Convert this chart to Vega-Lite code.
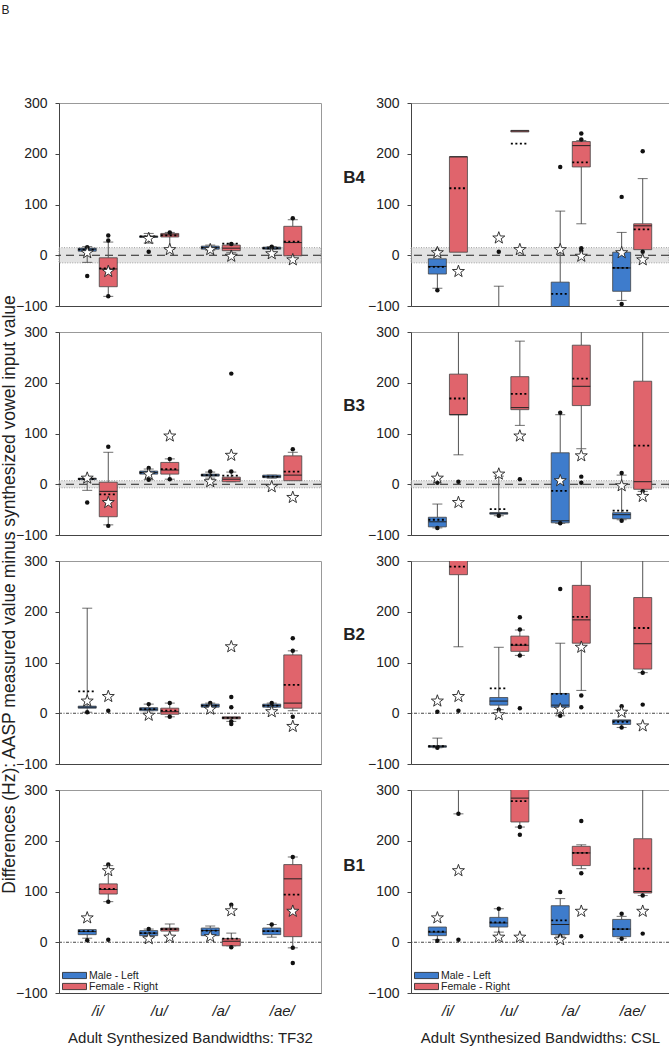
{
"$schema":"https://vega.github.io/schema/vega-lite/v6.json",
"padding":{"left":1,"top":3,"right":5,"bottom":4},
"title":{"text":"B","anchor":"start","fontSize":12,"fontWeight":"normal","offset":79,"color":"#222"},
"datasets":{"d":[
{"k":"z","s":"TF32","b":"B4","lo":-15,"hi":15},{"k":"z","s":"CSL","b":"B4","lo":-15,"hi":15},
{"k":"z","s":"TF32","b":"B3","lo":-7,"hi":7},{"k":"z","s":"CSL","b":"B3","lo":-7,"hi":7},
{"k":"z","s":"TF32","b":"B2","lo":0,"hi":0},{"k":"z","s":"CSL","b":"B2","lo":0,"hi":0},
{"k":"z","s":"TF32","b":"B1","lo":0,"hi":0},{"k":"z","s":"CSL","b":"B1","lo":0,"hi":0},

{"k":"x","s":"TF32","b":"B4","v":"/i/","g":"M","lo":-14,"q1":8,"md":12,"q3":14,"hi":17,"mn":11},
{"k":"x","s":"TF32","b":"B4","v":"/i/","g":"F","lo":-81,"q1":-62,"md":-27,"q3":-5,"hi":26,"mn":-26},
{"k":"x","s":"TF32","b":"B4","v":"/u/","g":"M","lo":24,"q1":35,"md":37,"q3":38,"hi":43,"mn":37},
{"k":"x","s":"TF32","b":"B4","v":"/u/","g":"F","lo":12,"q1":36,"md":40,"q3":43,"hi":45,"mn":39},
{"k":"x","s":"TF32","b":"B4","v":"/a/","g":"M","lo":10,"q1":12,"md":15,"q3":18,"hi":20,"mn":15},
{"k":"x","s":"TF32","b":"B4","v":"/a/","g":"F","lo":5,"q1":9,"md":14,"q3":20,"hi":22,"mn":23},
{"k":"x","s":"TF32","b":"B4","v":"/ae/","g":"M","lo":12,"q1":12,"md":14,"q3":16,"hi":17,"mn":14},
{"k":"x","s":"TF32","b":"B4","v":"/ae/","g":"F","q1":-1,"md":25,"q3":57,"hi":70,"mn":27},

{"k":"x","s":"CSL","b":"B4","v":"/i/","g":"M","lo":-65,"q1":-37,"md":-22,"q3":-7,"mn":-23},
{"k":"x","s":"CSL","b":"B4","v":"/i/","g":"F","q1":6,"md":194,"q3":194,"mn":132},
{"k":"x","s":"CSL","b":"B4","v":"/u/","g":"M","lo":-200,"q1":-160,"md":-130,"q3":-110,"hi":-61,"mn":-130},
{"k":"x","s":"CSL","b":"B4","v":"/u/","g":"F","q1":243,"md":245,"q3":246,"mn":220},
{"k":"x","s":"CSL","b":"B4","v":"/a/","g":"M","lo":-150,"q1":-130,"md":-115,"q3":-53,"hi":87,"mn":-76},
{"k":"x","s":"CSL","b":"B4","v":"/a/","g":"F","lo":62,"q1":174,"md":216,"q3":224,"hi":226,"mn":183},
{"k":"x","s":"CSL","b":"B4","v":"/ae/","g":"M","lo":-89,"q1":-71,"md":-25,"q3":6,"hi":45,"mn":-25},
{"k":"x","s":"CSL","b":"B4","v":"/ae/","g":"F","q1":11,"md":58,"q3":62,"hi":151,"mn":51},

{"k":"x","s":"TF32","b":"B3","v":"/i/","g":"M","lo":-12,"q1":9,"md":11,"q3":12,"hi":14,"mn":10},
{"k":"x","s":"TF32","b":"B3","v":"/i/","g":"F","lo":-80,"q1":-64,"md":-14,"q3":4,"hi":63,"mn":-20},
{"k":"x","s":"TF32","b":"B3","v":"/u/","g":"M","lo":9,"q1":20,"md":23,"q3":26,"hi":30,"mn":23},
{"k":"x","s":"TF32","b":"B3","v":"/u/","g":"F","lo":10,"q1":20,"md":28,"q3":43,"hi":50,"mn":30},
{"k":"x","s":"TF32","b":"B3","v":"/a/","g":"M","lo":12,"q1":16,"md":18,"q3":20,"hi":24,"mn":18},
{"k":"x","s":"TF32","b":"B3","v":"/a/","g":"F","lo":5,"q1":5,"md":10,"q3":14,"hi":24,"mn":17},
{"k":"x","s":"TF32","b":"B3","v":"/ae/","g":"M","lo":12,"q1":13,"md":15,"q3":18,"hi":18,"mn":15},
{"k":"x","s":"TF32","b":"B3","v":"/ae/","g":"F","q1":7,"md":18,"q3":56,"hi":63,"mn":25},

{"k":"x","s":"CSL","b":"B3","v":"/i/","g":"M","lo":-86,"q1":-84,"md":-74,"q3":-65,"hi":-39,"mn":-70},
{"k":"x","s":"CSL","b":"B3","v":"/i/","g":"F","lo":58,"q1":137,"md":137,"q3":217,"hi":340,"mn":169},
{"k":"x","s":"CSL","b":"B3","v":"/u/","g":"M","lo":-62,"q1":-59,"md":-57,"q3":-56,"hi":16,"mn":-49},
{"k":"x","s":"CSL","b":"B3","v":"/u/","g":"F","lo":116,"q1":147,"md":151,"q3":212,"hi":282,"mn":178},
{"k":"x","s":"CSL","b":"B3","v":"/a/","g":"M","lo":-77,"q1":-76,"md":-72,"q3":62,"hi":137,"mn":-13},
{"k":"x","s":"CSL","b":"B3","v":"/a/","g":"F","lo":70,"q1":155,"md":193,"q3":274,"hi":340,"mn":208},
{"k":"x","s":"CSL","b":"B3","v":"/ae/","g":"M","lo":-70,"q1":-68,"md":-60,"q3":-56,"hi":18,"mn":-52},
{"k":"x","s":"CSL","b":"B3","v":"/ae/","g":"F","lo":-14,"q1":-10,"md":5,"q3":203,"hi":340,"mn":76},

{"k":"x","s":"TF32","b":"B2","v":"/i/","g":"M","lo":2,"q1":10,"md":12,"q3":14,"hi":207,"mn":43},
{"k":"x","s":"TF32","b":"B2","v":"/u/","g":"M","lo":5,"q1":5,"md":8,"q3":11,"hi":18,"mn":8},
{"k":"x","s":"TF32","b":"B2","v":"/u/","g":"F","lo":-7,"q1":-2,"md":3,"q3":10,"hi":20,"mn":5},
{"k":"x","s":"TF32","b":"B2","v":"/a/","g":"M","lo":12,"q1":12,"md":15,"q3":18,"hi":20,"mn":15},
{"k":"x","s":"TF32","b":"B2","v":"/a/","g":"F","lo":-16,"q1":-11,"md":-9,"q3":-7,"mn":-9},
{"k":"x","s":"TF32","b":"B2","v":"/ae/","g":"M","lo":12,"q1":12,"md":15,"q3":18,"hi":20,"mn":15},
{"k":"x","s":"TF32","b":"B2","v":"/ae/","g":"F","lo":5,"q1":10,"md":20,"q3":115,"hi":123,"mn":56},

{"k":"x","s":"CSL","b":"B2","v":"/i/","g":"M","lo":-68,"q1":-67,"md":-65,"q3":-64,"hi":-49,"mn":-65},
{"k":"x","s":"CSL","b":"B2","v":"/i/","g":"F","lo":131,"q1":273,"md":350,"q3":400,"mn":289},
{"k":"x","s":"CSL","b":"B2","v":"/u/","g":"M","lo":7,"q1":16,"md":24,"q3":31,"hi":130,"mn":49},
{"k":"x","s":"CSL","b":"B2","v":"/u/","g":"F","lo":114,"q1":122,"md":134,"q3":152,"hi":164,"mn":135},
{"k":"x","s":"CSL","b":"B2","v":"/a/","g":"M","lo":-5,"q1":12,"md":16,"q3":39,"hi":138,"mn":38},
{"k":"x","s":"CSL","b":"B2","v":"/a/","g":"F","lo":45,"q1":138,"md":184,"q3":252,"hi":340,"mn":190},
{"k":"x","s":"CSL","b":"B2","v":"/ae/","g":"M","lo":-28,"q1":-22,"md":-15,"q3":-13,"mn":-17},
{"k":"x","s":"CSL","b":"B2","v":"/ae/","g":"F","lo":80,"q1":87,"md":137,"q3":228,"hi":340,"mn":168},

{"k":"x","s":"TF32","b":"B1","v":"/i/","g":"M","lo":8,"q1":15,"md":21,"q3":25,"mn":22},
{"k":"x","s":"TF32","b":"B1","v":"/i/","g":"F","lo":80,"q1":95,"md":104,"q3":115,"hi":151,"mn":105},
{"k":"x","s":"TF32","b":"B1","v":"/u/","g":"M","lo":13,"q1":13,"md":18,"q3":23,"hi":26,"mn":18},
{"k":"x","s":"TF32","b":"B1","v":"/u/","g":"F","q1":22,"md":26,"q3":28,"hi":36,"mn":26},
{"k":"x","s":"TF32","b":"B1","v":"/a/","g":"M","q1":13,"md":23,"q3":28,"hi":32,"mn":23},
{"k":"x","s":"TF32","b":"B1","v":"/a/","g":"F","lo":-7,"q1":-7,"md":2,"q3":7,"hi":18,"mn":7},
{"k":"x","s":"TF32","b":"B1","v":"/ae/","g":"M","lo":10,"q1":15,"md":22,"q3":28,"hi":35,"mn":22},
{"k":"x","s":"TF32","b":"B1","v":"/ae/","g":"F","lo":-11,"q1":11,"md":125,"q3":153,"hi":168,"mn":94},

{"k":"x","s":"CSL","b":"B1","v":"/i/","g":"M","lo":5,"q1":13,"md":20,"q3":30,"mn":21},
{"k":"x","s":"CSL","b":"B1","v":"/i/","g":"F","lo":253,"q1":320,"md":350,"q3":400,"mn":360},
{"k":"x","s":"CSL","b":"B1","v":"/u/","g":"M","lo":20,"q1":30,"md":38,"q3":49,"hi":66,"mn":39},
{"k":"x","s":"CSL","b":"B1","v":"/u/","g":"F","lo":227,"q1":237,"md":284,"q3":340,"mn":278},
{"k":"x","s":"CSL","b":"B1","v":"/a/","g":"M","lo":12,"q1":15,"md":35,"q3":72,"hi":86,"mn":43},
{"k":"x","s":"CSL","b":"B1","v":"/a/","g":"F","lo":145,"q1":151,"md":176,"q3":189,"hi":192,"mn":176},
{"k":"x","s":"CSL","b":"B1","v":"/ae/","g":"M","lo":8,"q1":11,"md":26,"q3":45,"hi":51,"mn":26},
{"k":"x","s":"CSL","b":"B1","v":"/ae/","g":"F","lo":92,"q1":97,"md":100,"q3":204,"hi":340,"mn":145},

{"k":"o","s":"TF32","b":"B4","v":"/i/","g":"M","y":-41},{"k":"o","s":"TF32","b":"B4","v":"/i/","g":"M","y":16},
{"k":"o","s":"TF32","b":"B4","v":"/i/","g":"F","y":39},{"k":"o","s":"TF32","b":"B4","v":"/i/","g":"F","y":29},{"k":"o","s":"TF32","b":"B4","v":"/i/","g":"F","y":-81},
{"k":"o","s":"TF32","b":"B4","v":"/u/","g":"M","y":7},{"k":"o","s":"TF32","b":"B4","v":"/u/","g":"F","y":45},
{"k":"o","s":"TF32","b":"B4","v":"/a/","g":"F","y":22},{"k":"o","s":"TF32","b":"B4","v":"/ae/","g":"M","y":17},{"k":"o","s":"TF32","b":"B4","v":"/ae/","g":"F","y":73},

{"k":"o","s":"CSL","b":"B4","v":"/i/","g":"M","y":-69},{"k":"o","s":"CSL","b":"B4","v":"/i/","g":"M","y":10},
{"k":"o","s":"CSL","b":"B4","v":"/u/","g":"M","y":7},{"k":"o","s":"CSL","b":"B4","v":"/a/","g":"M","y":174},
{"k":"o","s":"CSL","b":"B4","v":"/a/","g":"F","y":240},{"k":"o","s":"CSL","b":"B4","v":"/a/","g":"F","y":228},{"k":"o","s":"CSL","b":"B4","v":"/a/","g":"F","y":14},{"k":"o","s":"CSL","b":"B4","v":"/a/","g":"F","y":9},
{"k":"o","s":"CSL","b":"B4","v":"/ae/","g":"M","y":115},{"k":"o","s":"CSL","b":"B4","v":"/ae/","g":"M","y":-96},
{"k":"o","s":"CSL","b":"B4","v":"/ae/","g":"F","y":205},{"k":"o","s":"CSL","b":"B4","v":"/ae/","g":"F","y":7},

{"k":"o","s":"TF32","b":"B3","v":"/i/","g":"M","y":-36},{"k":"o","s":"TF32","b":"B3","v":"/i/","g":"F","y":74},{"k":"o","s":"TF32","b":"B3","v":"/i/","g":"F","y":-82},
{"k":"o","s":"TF32","b":"B3","v":"/u/","g":"M","y":32},{"k":"o","s":"TF32","b":"B3","v":"/u/","g":"M","y":9},
{"k":"o","s":"TF32","b":"B3","v":"/u/","g":"F","y":50},{"k":"o","s":"TF32","b":"B3","v":"/u/","g":"F","y":10},
{"k":"o","s":"TF32","b":"B3","v":"/a/","g":"M","y":25},{"k":"o","s":"TF32","b":"B3","v":"/a/","g":"F","y":25},{"k":"o","s":"TF32","b":"B3","v":"/a/","g":"F","y":218},
{"k":"o","s":"TF32","b":"B3","v":"/ae/","g":"F","y":69},

{"k":"o","s":"CSL","b":"B3","v":"/i/","g":"M","y":-86},{"k":"o","s":"CSL","b":"B3","v":"/i/","g":"M","y":3},{"k":"o","s":"CSL","b":"B3","v":"/i/","g":"F","y":5},
{"k":"o","s":"CSL","b":"B3","v":"/u/","g":"M","y":-62},{"k":"o","s":"CSL","b":"B3","v":"/u/","g":"F","y":10},
{"k":"o","s":"CSL","b":"B3","v":"/a/","g":"M","y":141},{"k":"o","s":"CSL","b":"B3","v":"/a/","g":"M","y":-77},
{"k":"o","s":"CSL","b":"B3","v":"/a/","g":"F","y":15},{"k":"o","s":"CSL","b":"B3","v":"/a/","g":"F","y":3},
{"k":"o","s":"CSL","b":"B3","v":"/ae/","g":"M","y":22},{"k":"o","s":"CSL","b":"B3","v":"/ae/","g":"M","y":-72},{"k":"o","s":"CSL","b":"B3","v":"/ae/","g":"F","y":-14},

{"k":"o","s":"TF32","b":"B2","v":"/i/","g":"M","y":2},{"k":"o","s":"TF32","b":"B2","v":"/i/","g":"F","y":5},
{"k":"o","s":"TF32","b":"B2","v":"/u/","g":"M","y":18},{"k":"o","s":"TF32","b":"B2","v":"/u/","g":"F","y":20},{"k":"o","s":"TF32","b":"B2","v":"/u/","g":"F","y":-7},
{"k":"o","s":"TF32","b":"B2","v":"/a/","g":"M","y":20},{"k":"o","s":"TF32","b":"B2","v":"/a/","g":"F","y":32},{"k":"o","s":"TF32","b":"B2","v":"/a/","g":"F","y":12},{"k":"o","s":"TF32","b":"B2","v":"/a/","g":"F","y":-21},{"k":"o","s":"TF32","b":"B2","v":"/a/","g":"F","y":-16},
{"k":"o","s":"TF32","b":"B2","v":"/ae/","g":"M","y":20},{"k":"o","s":"TF32","b":"B2","v":"/ae/","g":"F","y":148},{"k":"o","s":"TF32","b":"B2","v":"/ae/","g":"F","y":123},{"k":"o","s":"TF32","b":"B2","v":"/ae/","g":"F","y":-7},

{"k":"o","s":"CSL","b":"B2","v":"/i/","g":"M","y":-68},{"k":"o","s":"CSL","b":"B2","v":"/i/","g":"M","y":3},{"k":"o","s":"CSL","b":"B2","v":"/i/","g":"F","y":5},
{"k":"o","s":"CSL","b":"B2","v":"/u/","g":"M","y":7},{"k":"o","s":"CSL","b":"B2","v":"/u/","g":"F","y":189},{"k":"o","s":"CSL","b":"B2","v":"/u/","g":"F","y":165},{"k":"o","s":"CSL","b":"B2","v":"/u/","g":"F","y":114},{"k":"o","s":"CSL","b":"B2","v":"/u/","g":"F","y":10},
{"k":"o","s":"CSL","b":"B2","v":"/a/","g":"M","y":245},{"k":"o","s":"CSL","b":"B2","v":"/a/","g":"M","y":-5},{"k":"o","s":"CSL","b":"B2","v":"/a/","g":"F","y":35},{"k":"o","s":"CSL","b":"B2","v":"/a/","g":"F","y":12},
{"k":"o","s":"CSL","b":"B2","v":"/ae/","g":"M","y":-28},{"k":"o","s":"CSL","b":"B2","v":"/ae/","g":"M","y":14},{"k":"o","s":"CSL","b":"B2","v":"/ae/","g":"F","y":80},{"k":"o","s":"CSL","b":"B2","v":"/ae/","g":"F","y":17},

{"k":"o","s":"TF32","b":"B1","v":"/i/","g":"M","y":4},{"k":"o","s":"TF32","b":"B1","v":"/i/","g":"F","y":153},{"k":"o","s":"TF32","b":"B1","v":"/i/","g":"F","y":80},{"k":"o","s":"TF32","b":"B1","v":"/i/","g":"F","y":5},
{"k":"o","s":"TF32","b":"B1","v":"/u/","g":"M","y":26},{"k":"o","s":"TF32","b":"B1","v":"/a/","g":"F","y":74},{"k":"o","s":"TF32","b":"B1","v":"/a/","g":"F","y":-10},
{"k":"o","s":"TF32","b":"B1","v":"/ae/","g":"M","y":35},{"k":"o","s":"TF32","b":"B1","v":"/ae/","g":"F","y":168},{"k":"o","s":"TF32","b":"B1","v":"/ae/","g":"F","y":-11},{"k":"o","s":"TF32","b":"B1","v":"/ae/","g":"F","y":-41},

{"k":"o","s":"CSL","b":"B1","v":"/i/","g":"M","y":3},{"k":"o","s":"CSL","b":"B1","v":"/i/","g":"F","y":253},{"k":"o","s":"CSL","b":"B1","v":"/i/","g":"F","y":5},
{"k":"o","s":"CSL","b":"B1","v":"/u/","g":"M","y":66},{"k":"o","s":"CSL","b":"B1","v":"/u/","g":"F","y":227},{"k":"o","s":"CSL","b":"B1","v":"/u/","g":"F","y":212},
{"k":"o","s":"CSL","b":"B1","v":"/a/","g":"M","y":99},{"k":"o","s":"CSL","b":"B1","v":"/a/","g":"M","y":12},
{"k":"o","s":"CSL","b":"B1","v":"/a/","g":"F","y":239},{"k":"o","s":"CSL","b":"B1","v":"/a/","g":"F","y":136},{"k":"o","s":"CSL","b":"B1","v":"/a/","g":"F","y":12},
{"k":"o","s":"CSL","b":"B1","v":"/ae/","g":"M","y":56},{"k":"o","s":"CSL","b":"B1","v":"/ae/","g":"M","y":7},{"k":"o","s":"CSL","b":"B1","v":"/ae/","g":"F","y":92},{"k":"o","s":"CSL","b":"B1","v":"/ae/","g":"F","y":17},

{"k":"s","s":"TF32","b":"B4","v":"/i/","g":"M","y":5},{"k":"s","s":"TF32","b":"B4","v":"/i/","g":"F","y":-32},{"k":"s","s":"TF32","b":"B4","v":"/u/","g":"M","y":33},{"k":"s","s":"TF32","b":"B4","v":"/u/","g":"F","y":11},
{"k":"s","s":"TF32","b":"B4","v":"/a/","g":"M","y":11},{"k":"s","s":"TF32","b":"B4","v":"/a/","g":"F","y":-2},{"k":"s","s":"TF32","b":"B4","v":"/ae/","g":"M","y":3},{"k":"s","s":"TF32","b":"B4","v":"/ae/","g":"F","y":-9},
{"k":"s","s":"CSL","b":"B4","v":"/i/","g":"M","y":5},{"k":"s","s":"CSL","b":"B4","v":"/i/","g":"F","y":-32},{"k":"s","s":"CSL","b":"B4","v":"/u/","g":"M","y":34},{"k":"s","s":"CSL","b":"B4","v":"/u/","g":"F","y":11},
{"k":"s","s":"CSL","b":"B4","v":"/a/","g":"M","y":11},{"k":"s","s":"CSL","b":"B4","v":"/a/","g":"F","y":-2},{"k":"s","s":"CSL","b":"B4","v":"/ae/","g":"M","y":5},{"k":"s","s":"CSL","b":"B4","v":"/ae/","g":"F","y":-9},
{"k":"s","s":"TF32","b":"B3","v":"/i/","g":"M","y":12},{"k":"s","s":"TF32","b":"B3","v":"/i/","g":"F","y":-36},{"k":"s","s":"TF32","b":"B3","v":"/u/","g":"M","y":20},{"k":"s","s":"TF32","b":"B3","v":"/u/","g":"F","y":95},
{"k":"s","s":"TF32","b":"B3","v":"/a/","g":"M","y":5},{"k":"s","s":"TF32","b":"B3","v":"/a/","g":"F","y":57},{"k":"s","s":"TF32","b":"B3","v":"/ae/","g":"M","y":-5},{"k":"s","s":"TF32","b":"B3","v":"/ae/","g":"F","y":-26},
{"k":"s","s":"CSL","b":"B3","v":"/i/","g":"M","y":12},{"k":"s","s":"CSL","b":"B3","v":"/i/","g":"F","y":-36},{"k":"s","s":"CSL","b":"B3","v":"/u/","g":"M","y":20},{"k":"s","s":"CSL","b":"B3","v":"/u/","g":"F","y":95},
{"k":"s","s":"CSL","b":"B3","v":"/a/","g":"M","y":7},{"k":"s","s":"CSL","b":"B3","v":"/a/","g":"F","y":56},{"k":"s","s":"CSL","b":"B3","v":"/ae/","g":"M","y":-3},{"k":"s","s":"CSL","b":"B3","v":"/ae/","g":"F","y":-24},
{"k":"s","s":"TF32","b":"B2","v":"/i/","g":"M","y":24},{"k":"s","s":"TF32","b":"B2","v":"/i/","g":"F","y":33},{"k":"s","s":"TF32","b":"B2","v":"/u/","g":"M","y":-4},
{"k":"s","s":"TF32","b":"B2","v":"/a/","g":"M","y":8},{"k":"s","s":"TF32","b":"B2","v":"/a/","g":"F","y":131},{"k":"s","s":"TF32","b":"B2","v":"/ae/","g":"M","y":3},{"k":"s","s":"TF32","b":"B2","v":"/ae/","g":"F","y":-26},
{"k":"s","s":"CSL","b":"B2","v":"/i/","g":"M","y":24},{"k":"s","s":"CSL","b":"B2","v":"/i/","g":"F","y":33},{"k":"s","s":"CSL","b":"B2","v":"/u/","g":"M","y":-3},
{"k":"s","s":"CSL","b":"B2","v":"/a/","g":"M","y":8},{"k":"s","s":"CSL","b":"B2","v":"/a/","g":"F","y":130},{"k":"s","s":"CSL","b":"B2","v":"/ae/","g":"M","y":2},{"k":"s","s":"CSL","b":"B2","v":"/ae/","g":"F","y":-25},
{"k":"s","s":"TF32","b":"B1","v":"/i/","g":"M","y":48},{"k":"s","s":"TF32","b":"B1","v":"/i/","g":"F","y":141},{"k":"s","s":"TF32","b":"B1","v":"/u/","g":"M","y":7},{"k":"s","s":"TF32","b":"B1","v":"/u/","g":"F","y":10},
{"k":"s","s":"TF32","b":"B1","v":"/a/","g":"M","y":11},{"k":"s","s":"TF32","b":"B1","v":"/a/","g":"F","y":62},{"k":"s","s":"TF32","b":"B1","v":"/ae/","g":"F","y":61},
{"k":"s","s":"CSL","b":"B1","v":"/i/","g":"M","y":48},{"k":"s","s":"CSL","b":"B1","v":"/i/","g":"F","y":141},{"k":"s","s":"CSL","b":"B1","v":"/u/","g":"M","y":10},{"k":"s","s":"CSL","b":"B1","v":"/u/","g":"F","y":10},
{"k":"s","s":"CSL","b":"B1","v":"/a/","g":"M","y":5},{"k":"s","s":"CSL","b":"B1","v":"/a/","g":"F","y":61},{"k":"s","s":"CSL","b":"B1","v":"/ae/","g":"F","y":61}
]},
"spacing":20,
"resolve":{"legend":{"color":"independent"}},
"hconcat":[
{"vconcat":[
 {"width":262,"height":203,"data":{"name":"d"},"transform":[{"filter":"datum.s=='TF32'&&datum.b=='B4'"}],"layer":[
  {"transform":[{"filter":"datum.k=='z'"}],"mark":{"type":"rect","fill":"#c8c8c8","fillOpacity":0.5,"stroke":"#888","strokeWidth":0.8,"strokeDash":[1,1.5]},"encoding":{"y":{"field":"lo","type":"quantitative","scale":{"domain":[-100,300],"nice":false,"zero":false}},"y2":{"field":"hi"}}},
  {"transform":[{"filter":"datum.k=='z'"}],"mark":{"type":"rule","color":"#222","strokeDash":[8,5],"strokeWidth":1},"encoding":{"y":{"datum":0,"type":"quantitative","scale":{"domain":[-100,300],"nice":false,"zero":false}}}},
  {"encoding":{"x":{"field":"v","type":"nominal","scale":{"type":"band","domain":["/i/","/u/","/a/","/ae/"],"paddingInner":0,"paddingOuter":0.13},"axis":{"labels":false,"ticks":false,"title":null}},"xOffset":{"field":"g","type":"nominal","scale":{"type":"band","domain":["M","F"],"paddingInner":0,"paddingOuter":0.46}}},"layer":[
   {"transform":[{"filter":"datum.k=='x'&&isValid(datum.lo)"}],"mark":{"type":"rule","color":"#555","strokeWidth":1,"clip":true},"encoding":{"y":{"field":"lo","type":"quantitative","scale":{"domain":[-100,300],"nice":false,"zero":false}},"y2":{"field":"q1"}}},
   {"transform":[{"filter":"datum.k=='x'&&isValid(datum.hi)"}],"mark":{"type":"rule","color":"#555","strokeWidth":1,"clip":true},"encoding":{"y":{"field":"q3","type":"quantitative","scale":{"domain":[-100,300],"nice":false,"zero":false}},"y2":{"field":"hi"}}},
   {"transform":[{"filter":"datum.k=='x'"},{"fold":["lo","hi"],"as":["kk","w"]},{"filter":"isValid(datum.w)"}],"mark":{"type":"tick","color":"#333","size":10,"thickness":1,"clip":true},"encoding":{"y":{"field":"w","type":"quantitative","scale":{"domain":[-100,300],"nice":false,"zero":false}}}},
   {"transform":[{"filter":"datum.k=='x'&&isValid(datum.q1)"}],"mark":{"type":"bar","width":18,"stroke":"#444","strokeWidth":0.8,"clip":true},"encoding":{"y":{"field":"q1","type":"quantitative","scale":{"domain":[-100,300],"nice":false,"zero":false},"axis":{"values":[-100,0,100,200,300],"title":null}},"y2":{"field":"q3"},"color":{"field":"g","type":"nominal","scale":{"domain":["M","F"],"range":["#3e7ccc","#e0646c"]},"legend":null}}},
   {"transform":[{"filter":"datum.k=='x'&&isValid(datum.md)"}],"mark":{"type":"point","shape":"stroke","size":324,"stroke":"#222","strokeWidth":1,"filled":false,"opacity":1,"clip":true},"encoding":{"y":{"field":"md","type":"quantitative","scale":{"domain":[-100,300],"nice":false,"zero":false}}}},
   {"transform":[{"filter":"datum.k=='x'&&isValid(datum.mn)"}],"mark":{"type":"point","shape":"stroke","size":324,"stroke":"#000","strokeWidth":1.8,"strokeDash":[2,2.5],"filled":false,"opacity":1,"clip":true},"encoding":{"y":{"field":"mn","type":"quantitative","scale":{"domain":[-100,300],"nice":false,"zero":false}}}},
   {"transform":[{"filter":"datum.k=='o'"}],"mark":{"type":"circle","size":20,"color":"#111","opacity":1,"clip":true},"encoding":{"y":{"field":"y","type":"quantitative","scale":{"domain":[-100,300],"nice":false,"zero":false}}}},
   {"transform":[{"filter":"datum.k=='s'"}],"mark":{"type":"point","shape":"M0,-1L0.235,-0.324L0.951,-0.309L0.38,0.124L0.588,0.809L0,0.4L-0.588,0.809L-0.38,0.124L-0.951,-0.309L-0.235,-0.324Z","size":160,"filled":true,"fill":"#fff","stroke":"#222","strokeWidth":0.9,"opacity":1,"clip":true},"encoding":{"y":{"field":"y","type":"quantitative","scale":{"domain":[-100,300],"nice":false,"zero":false}}}}
  ]}
 ]},
 {"width":262,"height":203,"data":{"name":"d"},"transform":[{"filter":"datum.s=='TF32'&&datum.b=='B3'"}],"layer":[
  {"transform":[{"filter":"datum.k=='z'"}],"mark":{"type":"rect","fill":"#c8c8c8","fillOpacity":0.5,"stroke":"#888","strokeWidth":0.8,"strokeDash":[1,1.5]},"encoding":{"y":{"field":"lo","type":"quantitative","scale":{"domain":[-100,300],"nice":false,"zero":false}},"y2":{"field":"hi"}}},
  {"transform":[{"filter":"datum.k=='z'"}],"mark":{"type":"rule","color":"#222","strokeDash":[8,5],"strokeWidth":1},"encoding":{"y":{"datum":0,"type":"quantitative","scale":{"domain":[-100,300],"nice":false,"zero":false}}}},
  {"encoding":{"x":{"field":"v","type":"nominal","scale":{"type":"band","domain":["/i/","/u/","/a/","/ae/"],"paddingInner":0,"paddingOuter":0.13},"axis":{"labels":false,"ticks":false,"title":null}},"xOffset":{"field":"g","type":"nominal","scale":{"type":"band","domain":["M","F"],"paddingInner":0,"paddingOuter":0.46}}},"layer":[
   {"transform":[{"filter":"datum.k=='x'&&isValid(datum.lo)"}],"mark":{"type":"rule","color":"#555","strokeWidth":1,"clip":true},"encoding":{"y":{"field":"lo","type":"quantitative","scale":{"domain":[-100,300],"nice":false,"zero":false}},"y2":{"field":"q1"}}},
   {"transform":[{"filter":"datum.k=='x'&&isValid(datum.hi)"}],"mark":{"type":"rule","color":"#555","strokeWidth":1,"clip":true},"encoding":{"y":{"field":"q3","type":"quantitative","scale":{"domain":[-100,300],"nice":false,"zero":false}},"y2":{"field":"hi"}}},
   {"transform":[{"filter":"datum.k=='x'"},{"fold":["lo","hi"],"as":["kk","w"]},{"filter":"isValid(datum.w)"}],"mark":{"type":"tick","color":"#333","size":10,"thickness":1,"clip":true},"encoding":{"y":{"field":"w","type":"quantitative","scale":{"domain":[-100,300],"nice":false,"zero":false}}}},
   {"transform":[{"filter":"datum.k=='x'&&isValid(datum.q1)"}],"mark":{"type":"bar","width":18,"stroke":"#444","strokeWidth":0.8,"clip":true},"encoding":{"y":{"field":"q1","type":"quantitative","scale":{"domain":[-100,300],"nice":false,"zero":false},"axis":{"values":[-100,0,100,200,300],"title":null}},"y2":{"field":"q3"},"color":{"field":"g","type":"nominal","scale":{"domain":["M","F"],"range":["#3e7ccc","#e0646c"]},"legend":null}}},
   {"transform":[{"filter":"datum.k=='x'&&isValid(datum.md)"}],"mark":{"type":"point","shape":"stroke","size":324,"stroke":"#222","strokeWidth":1,"filled":false,"opacity":1,"clip":true},"encoding":{"y":{"field":"md","type":"quantitative","scale":{"domain":[-100,300],"nice":false,"zero":false}}}},
   {"transform":[{"filter":"datum.k=='x'&&isValid(datum.mn)"}],"mark":{"type":"point","shape":"stroke","size":324,"stroke":"#000","strokeWidth":1.8,"strokeDash":[2,2.5],"filled":false,"opacity":1,"clip":true},"encoding":{"y":{"field":"mn","type":"quantitative","scale":{"domain":[-100,300],"nice":false,"zero":false}}}},
   {"transform":[{"filter":"datum.k=='o'"}],"mark":{"type":"circle","size":20,"color":"#111","opacity":1,"clip":true},"encoding":{"y":{"field":"y","type":"quantitative","scale":{"domain":[-100,300],"nice":false,"zero":false}}}},
   {"transform":[{"filter":"datum.k=='s'"}],"mark":{"type":"point","shape":"M0,-1L0.235,-0.324L0.951,-0.309L0.38,0.124L0.588,0.809L0,0.4L-0.588,0.809L-0.38,0.124L-0.951,-0.309L-0.235,-0.324Z","size":160,"filled":true,"fill":"#fff","stroke":"#222","strokeWidth":0.9,"opacity":1,"clip":true},"encoding":{"y":{"field":"y","type":"quantitative","scale":{"domain":[-100,300],"nice":false,"zero":false}}}}
  ]}
 ]},
 {"width":262,"height":203,"data":{"name":"d"},"transform":[{"filter":"datum.s=='TF32'&&datum.b=='B2'"}],"layer":[
  {"transform":[{"filter":"datum.k=='z'"}],"mark":{"type":"rule","color":"#444","strokeDash":[3,1.5,1,1.5],"strokeWidth":1},"encoding":{"y":{"datum":0,"type":"quantitative","scale":{"domain":[-100,300],"nice":false,"zero":false}}}},
  {"encoding":{"x":{"field":"v","type":"nominal","scale":{"type":"band","domain":["/i/","/u/","/a/","/ae/"],"paddingInner":0,"paddingOuter":0.13},"axis":{"labels":false,"ticks":false,"title":null}},"xOffset":{"field":"g","type":"nominal","scale":{"type":"band","domain":["M","F"],"paddingInner":0,"paddingOuter":0.46}}},"layer":[
   {"transform":[{"filter":"datum.k=='x'&&isValid(datum.lo)"}],"mark":{"type":"rule","color":"#555","strokeWidth":1,"clip":true},"encoding":{"y":{"field":"lo","type":"quantitative","scale":{"domain":[-100,300],"nice":false,"zero":false}},"y2":{"field":"q1"}}},
   {"transform":[{"filter":"datum.k=='x'&&isValid(datum.hi)"}],"mark":{"type":"rule","color":"#555","strokeWidth":1,"clip":true},"encoding":{"y":{"field":"q3","type":"quantitative","scale":{"domain":[-100,300],"nice":false,"zero":false}},"y2":{"field":"hi"}}},
   {"transform":[{"filter":"datum.k=='x'"},{"fold":["lo","hi"],"as":["kk","w"]},{"filter":"isValid(datum.w)"}],"mark":{"type":"tick","color":"#333","size":10,"thickness":1,"clip":true},"encoding":{"y":{"field":"w","type":"quantitative","scale":{"domain":[-100,300],"nice":false,"zero":false}}}},
   {"transform":[{"filter":"datum.k=='x'&&isValid(datum.q1)"}],"mark":{"type":"bar","width":18,"stroke":"#444","strokeWidth":0.8,"clip":true},"encoding":{"y":{"field":"q1","type":"quantitative","scale":{"domain":[-100,300],"nice":false,"zero":false},"axis":{"values":[-100,0,100,200,300],"title":null}},"y2":{"field":"q3"},"color":{"field":"g","type":"nominal","scale":{"domain":["M","F"],"range":["#3e7ccc","#e0646c"]},"legend":null}}},
   {"transform":[{"filter":"datum.k=='x'&&isValid(datum.md)"}],"mark":{"type":"point","shape":"stroke","size":324,"stroke":"#222","strokeWidth":1,"filled":false,"opacity":1,"clip":true},"encoding":{"y":{"field":"md","type":"quantitative","scale":{"domain":[-100,300],"nice":false,"zero":false}}}},
   {"transform":[{"filter":"datum.k=='x'&&isValid(datum.mn)"}],"mark":{"type":"point","shape":"stroke","size":324,"stroke":"#000","strokeWidth":1.8,"strokeDash":[2,2.5],"filled":false,"opacity":1,"clip":true},"encoding":{"y":{"field":"mn","type":"quantitative","scale":{"domain":[-100,300],"nice":false,"zero":false}}}},
   {"transform":[{"filter":"datum.k=='o'"}],"mark":{"type":"circle","size":20,"color":"#111","opacity":1,"clip":true},"encoding":{"y":{"field":"y","type":"quantitative","scale":{"domain":[-100,300],"nice":false,"zero":false}}}},
   {"transform":[{"filter":"datum.k=='s'"}],"mark":{"type":"point","shape":"M0,-1L0.235,-0.324L0.951,-0.309L0.38,0.124L0.588,0.809L0,0.4L-0.588,0.809L-0.38,0.124L-0.951,-0.309L-0.235,-0.324Z","size":160,"filled":true,"fill":"#fff","stroke":"#222","strokeWidth":0.9,"opacity":1,"clip":true},"encoding":{"y":{"field":"y","type":"quantitative","scale":{"domain":[-100,300],"nice":false,"zero":false}}}}
  ]}
 ]},
 {"width":262,"height":203,"data":{"name":"d"},"transform":[{"filter":"datum.s=='TF32'&&datum.b=='B1'"}],"layer":[
  {"transform":[{"filter":"datum.k=='z'"}],"mark":{"type":"rule","color":"#444","strokeDash":[3,1.5,1,1.5],"strokeWidth":1},"encoding":{"y":{"datum":0,"type":"quantitative","scale":{"domain":[-100,300],"nice":false,"zero":false}}}},
  {"encoding":{"x":{"field":"v","type":"nominal","scale":{"type":"band","domain":["/i/","/u/","/a/","/ae/"],"paddingInner":0,"paddingOuter":0.13},"axis":{"labelAngle":0,"labelFontSize":15,"labelFontStyle":"italic","labelDx":8,"labelPadding":10,"ticks":false,"title":"Adult Synthesized Bandwidths: TF32","titleFontSize":15,"titleFontWeight":"normal","titlePadding":12}},"xOffset":{"field":"g","type":"nominal","scale":{"type":"band","domain":["M","F"],"paddingInner":0,"paddingOuter":0.46}}},"layer":[
   {"transform":[{"filter":"datum.k=='x'&&isValid(datum.lo)"}],"mark":{"type":"rule","color":"#555","strokeWidth":1,"clip":true},"encoding":{"y":{"field":"lo","type":"quantitative","scale":{"domain":[-100,300],"nice":false,"zero":false}},"y2":{"field":"q1"}}},
   {"transform":[{"filter":"datum.k=='x'&&isValid(datum.hi)"}],"mark":{"type":"rule","color":"#555","strokeWidth":1,"clip":true},"encoding":{"y":{"field":"q3","type":"quantitative","scale":{"domain":[-100,300],"nice":false,"zero":false}},"y2":{"field":"hi"}}},
   {"transform":[{"filter":"datum.k=='x'"},{"fold":["lo","hi"],"as":["kk","w"]},{"filter":"isValid(datum.w)"}],"mark":{"type":"tick","color":"#333","size":10,"thickness":1,"clip":true},"encoding":{"y":{"field":"w","type":"quantitative","scale":{"domain":[-100,300],"nice":false,"zero":false}}}},
   {"transform":[{"filter":"datum.k=='x'&&isValid(datum.q1)"}],"mark":{"type":"bar","width":18,"stroke":"#444","strokeWidth":0.8,"clip":true},"encoding":{"y":{"field":"q1","type":"quantitative","scale":{"domain":[-100,300],"nice":false,"zero":false},"axis":{"values":[-100,0,100,200,300],"title":null}},"y2":{"field":"q3"},"color":{"field":"g","type":"nominal","scale":{"domain":["M","F"],"range":["#3e7ccc","#e0646c"]},"legend":{"orient":"none","legendX":10,"legendY":180,"title":null,"padding":0,"labelExpr":"datum.label=='M'?'Male - Left':'Female - Right'","symbolType":"M-2.4,-0.62H2.4V0.62H-2.4Z","symbolSize":100,"symbolStrokeColor":"#222","symbolStrokeWidth":0.8,"symbolOpacity":1,"labelFontSize":10.5,"labelColor":"#222","rowPadding":0,"labelOffset":9}}}},
   {"transform":[{"filter":"datum.k=='x'&&isValid(datum.md)"}],"mark":{"type":"point","shape":"stroke","size":324,"stroke":"#222","strokeWidth":1,"filled":false,"opacity":1,"clip":true},"encoding":{"y":{"field":"md","type":"quantitative","scale":{"domain":[-100,300],"nice":false,"zero":false}}}},
   {"transform":[{"filter":"datum.k=='x'&&isValid(datum.mn)"}],"mark":{"type":"point","shape":"stroke","size":324,"stroke":"#000","strokeWidth":1.8,"strokeDash":[2,2.5],"filled":false,"opacity":1,"clip":true},"encoding":{"y":{"field":"mn","type":"quantitative","scale":{"domain":[-100,300],"nice":false,"zero":false}}}},
   {"transform":[{"filter":"datum.k=='o'"}],"mark":{"type":"circle","size":20,"color":"#111","opacity":1,"clip":true},"encoding":{"y":{"field":"y","type":"quantitative","scale":{"domain":[-100,300],"nice":false,"zero":false}}}},
   {"transform":[{"filter":"datum.k=='s'"}],"mark":{"type":"point","shape":"M0,-1L0.235,-0.324L0.951,-0.309L0.38,0.124L0.588,0.809L0,0.4L-0.588,0.809L-0.38,0.124L-0.951,-0.309L-0.235,-0.324Z","size":160,"filled":true,"fill":"#fff","stroke":"#222","strokeWidth":0.9,"opacity":1,"clip":true},"encoding":{"y":{"field":"y","type":"quantitative","scale":{"domain":[-100,300],"nice":false,"zero":false}}}}
  ]}
 ]}
],"spacing":26,"bounds":"flush","resolve":{"legend":{"color":"independent"}},
"title":{"text":"Differences (Hz): AASP measured value minus synthesized vowel input value","orient":"left","anchor":"middle","fontSize":17.5,"fontWeight":"normal","offset":-4,"dx":-24,"color":"#222"}},
{"vconcat":[
 {"width":258,"height":203,"data":{"name":"d"},"transform":[{"filter":"datum.s=='CSL'&&datum.b=='B4'"}],"layer":[
  {"transform":[{"filter":"datum.k=='z'"}],"mark":{"type":"rect","fill":"#c8c8c8","fillOpacity":0.5,"stroke":"#888","strokeWidth":0.8,"strokeDash":[1,1.5]},"encoding":{"y":{"field":"lo","type":"quantitative","scale":{"domain":[-100,300],"nice":false,"zero":false}},"y2":{"field":"hi"}}},
  {"transform":[{"filter":"datum.k=='z'"}],"mark":{"type":"rule","color":"#222","strokeDash":[8,5],"strokeWidth":1},"encoding":{"y":{"datum":0,"type":"quantitative","scale":{"domain":[-100,300],"nice":false,"zero":false}}}},
  {"encoding":{"x":{"field":"v","type":"nominal","scale":{"type":"band","domain":["/i/","/u/","/a/","/ae/"],"paddingInner":0,"paddingOuter":0.1},"axis":{"labels":false,"ticks":false,"title":null}},"xOffset":{"field":"g","type":"nominal","scale":{"type":"band","domain":["M","F"],"paddingInner":0,"paddingOuter":0.46}}},"layer":[
   {"transform":[{"filter":"datum.k=='x'&&isValid(datum.lo)"}],"mark":{"type":"rule","color":"#555","strokeWidth":1,"clip":true},"encoding":{"y":{"field":"lo","type":"quantitative","scale":{"domain":[-100,300],"nice":false,"zero":false}},"y2":{"field":"q1"}}},
   {"transform":[{"filter":"datum.k=='x'&&isValid(datum.hi)"}],"mark":{"type":"rule","color":"#555","strokeWidth":1,"clip":true},"encoding":{"y":{"field":"q3","type":"quantitative","scale":{"domain":[-100,300],"nice":false,"zero":false}},"y2":{"field":"hi"}}},
   {"transform":[{"filter":"datum.k=='x'"},{"fold":["lo","hi"],"as":["kk","w"]},{"filter":"isValid(datum.w)"}],"mark":{"type":"tick","color":"#333","size":10,"thickness":1,"clip":true},"encoding":{"y":{"field":"w","type":"quantitative","scale":{"domain":[-100,300],"nice":false,"zero":false}}}},
   {"transform":[{"filter":"datum.k=='x'&&isValid(datum.q1)"}],"mark":{"type":"bar","width":18,"stroke":"#444","strokeWidth":0.8,"clip":true},"encoding":{"y":{"field":"q1","type":"quantitative","scale":{"domain":[-100,300],"nice":false,"zero":false},"axis":{"values":[-100,0,100,200,300],"title":"B4","titleAngle":0,"titleAlign":"right","titleBaseline":"middle","titleY":74,"titleFontSize":17,"titleFontWeight":"bold","titlePadding":3}},"y2":{"field":"q3"},"color":{"field":"g","type":"nominal","scale":{"domain":["M","F"],"range":["#3e7ccc","#e0646c"]},"legend":null}}},
   {"transform":[{"filter":"datum.k=='x'&&isValid(datum.md)"}],"mark":{"type":"point","shape":"stroke","size":324,"stroke":"#222","strokeWidth":1,"filled":false,"opacity":1,"clip":true},"encoding":{"y":{"field":"md","type":"quantitative","scale":{"domain":[-100,300],"nice":false,"zero":false}}}},
   {"transform":[{"filter":"datum.k=='x'&&isValid(datum.mn)"}],"mark":{"type":"point","shape":"stroke","size":324,"stroke":"#000","strokeWidth":1.8,"strokeDash":[2,2.5],"filled":false,"opacity":1,"clip":true},"encoding":{"y":{"field":"mn","type":"quantitative","scale":{"domain":[-100,300],"nice":false,"zero":false}}}},
   {"transform":[{"filter":"datum.k=='o'"}],"mark":{"type":"circle","size":20,"color":"#111","opacity":1,"clip":true},"encoding":{"y":{"field":"y","type":"quantitative","scale":{"domain":[-100,300],"nice":false,"zero":false}}}},
   {"transform":[{"filter":"datum.k=='s'"}],"mark":{"type":"point","shape":"M0,-1L0.235,-0.324L0.951,-0.309L0.38,0.124L0.588,0.809L0,0.4L-0.588,0.809L-0.38,0.124L-0.951,-0.309L-0.235,-0.324Z","size":160,"filled":true,"fill":"#fff","stroke":"#222","strokeWidth":0.9,"opacity":1,"clip":true},"encoding":{"y":{"field":"y","type":"quantitative","scale":{"domain":[-100,300],"nice":false,"zero":false}}}}
  ]}
 ]},
 {"width":258,"height":203,"data":{"name":"d"},"transform":[{"filter":"datum.s=='CSL'&&datum.b=='B3'"}],"layer":[
  {"transform":[{"filter":"datum.k=='z'"}],"mark":{"type":"rect","fill":"#c8c8c8","fillOpacity":0.5,"stroke":"#888","strokeWidth":0.8,"strokeDash":[1,1.5]},"encoding":{"y":{"field":"lo","type":"quantitative","scale":{"domain":[-100,300],"nice":false,"zero":false}},"y2":{"field":"hi"}}},
  {"transform":[{"filter":"datum.k=='z'"}],"mark":{"type":"rule","color":"#222","strokeDash":[8,5],"strokeWidth":1},"encoding":{"y":{"datum":0,"type":"quantitative","scale":{"domain":[-100,300],"nice":false,"zero":false}}}},
  {"encoding":{"x":{"field":"v","type":"nominal","scale":{"type":"band","domain":["/i/","/u/","/a/","/ae/"],"paddingInner":0,"paddingOuter":0.1},"axis":{"labels":false,"ticks":false,"title":null}},"xOffset":{"field":"g","type":"nominal","scale":{"type":"band","domain":["M","F"],"paddingInner":0,"paddingOuter":0.46}}},"layer":[
   {"transform":[{"filter":"datum.k=='x'&&isValid(datum.lo)"}],"mark":{"type":"rule","color":"#555","strokeWidth":1,"clip":true},"encoding":{"y":{"field":"lo","type":"quantitative","scale":{"domain":[-100,300],"nice":false,"zero":false}},"y2":{"field":"q1"}}},
   {"transform":[{"filter":"datum.k=='x'&&isValid(datum.hi)"}],"mark":{"type":"rule","color":"#555","strokeWidth":1,"clip":true},"encoding":{"y":{"field":"q3","type":"quantitative","scale":{"domain":[-100,300],"nice":false,"zero":false}},"y2":{"field":"hi"}}},
   {"transform":[{"filter":"datum.k=='x'"},{"fold":["lo","hi"],"as":["kk","w"]},{"filter":"isValid(datum.w)"}],"mark":{"type":"tick","color":"#333","size":10,"thickness":1,"clip":true},"encoding":{"y":{"field":"w","type":"quantitative","scale":{"domain":[-100,300],"nice":false,"zero":false}}}},
   {"transform":[{"filter":"datum.k=='x'&&isValid(datum.q1)"}],"mark":{"type":"bar","width":18,"stroke":"#444","strokeWidth":0.8,"clip":true},"encoding":{"y":{"field":"q1","type":"quantitative","scale":{"domain":[-100,300],"nice":false,"zero":false},"axis":{"values":[-100,0,100,200,300],"title":"B3","titleAngle":0,"titleAlign":"right","titleBaseline":"middle","titleY":73,"titleFontSize":17,"titleFontWeight":"bold","titlePadding":3}},"y2":{"field":"q3"},"color":{"field":"g","type":"nominal","scale":{"domain":["M","F"],"range":["#3e7ccc","#e0646c"]},"legend":null}}},
   {"transform":[{"filter":"datum.k=='x'&&isValid(datum.md)"}],"mark":{"type":"point","shape":"stroke","size":324,"stroke":"#222","strokeWidth":1,"filled":false,"opacity":1,"clip":true},"encoding":{"y":{"field":"md","type":"quantitative","scale":{"domain":[-100,300],"nice":false,"zero":false}}}},
   {"transform":[{"filter":"datum.k=='x'&&isValid(datum.mn)"}],"mark":{"type":"point","shape":"stroke","size":324,"stroke":"#000","strokeWidth":1.8,"strokeDash":[2,2.5],"filled":false,"opacity":1,"clip":true},"encoding":{"y":{"field":"mn","type":"quantitative","scale":{"domain":[-100,300],"nice":false,"zero":false}}}},
   {"transform":[{"filter":"datum.k=='o'"}],"mark":{"type":"circle","size":20,"color":"#111","opacity":1,"clip":true},"encoding":{"y":{"field":"y","type":"quantitative","scale":{"domain":[-100,300],"nice":false,"zero":false}}}},
   {"transform":[{"filter":"datum.k=='s'"}],"mark":{"type":"point","shape":"M0,-1L0.235,-0.324L0.951,-0.309L0.38,0.124L0.588,0.809L0,0.4L-0.588,0.809L-0.38,0.124L-0.951,-0.309L-0.235,-0.324Z","size":160,"filled":true,"fill":"#fff","stroke":"#222","strokeWidth":0.9,"opacity":1,"clip":true},"encoding":{"y":{"field":"y","type":"quantitative","scale":{"domain":[-100,300],"nice":false,"zero":false}}}}
  ]}
 ]},
 {"width":258,"height":203,"data":{"name":"d"},"transform":[{"filter":"datum.s=='CSL'&&datum.b=='B2'"}],"layer":[
  {"transform":[{"filter":"datum.k=='z'"}],"mark":{"type":"rule","color":"#444","strokeDash":[3,1.5,1,1.5],"strokeWidth":1},"encoding":{"y":{"datum":0,"type":"quantitative","scale":{"domain":[-100,300],"nice":false,"zero":false}}}},
  {"encoding":{"x":{"field":"v","type":"nominal","scale":{"type":"band","domain":["/i/","/u/","/a/","/ae/"],"paddingInner":0,"paddingOuter":0.1},"axis":{"labels":false,"ticks":false,"title":null}},"xOffset":{"field":"g","type":"nominal","scale":{"type":"band","domain":["M","F"],"paddingInner":0,"paddingOuter":0.46}}},"layer":[
   {"transform":[{"filter":"datum.k=='x'&&isValid(datum.lo)"}],"mark":{"type":"rule","color":"#555","strokeWidth":1,"clip":true},"encoding":{"y":{"field":"lo","type":"quantitative","scale":{"domain":[-100,300],"nice":false,"zero":false}},"y2":{"field":"q1"}}},
   {"transform":[{"filter":"datum.k=='x'&&isValid(datum.hi)"}],"mark":{"type":"rule","color":"#555","strokeWidth":1,"clip":true},"encoding":{"y":{"field":"q3","type":"quantitative","scale":{"domain":[-100,300],"nice":false,"zero":false}},"y2":{"field":"hi"}}},
   {"transform":[{"filter":"datum.k=='x'"},{"fold":["lo","hi"],"as":["kk","w"]},{"filter":"isValid(datum.w)"}],"mark":{"type":"tick","color":"#333","size":10,"thickness":1,"clip":true},"encoding":{"y":{"field":"w","type":"quantitative","scale":{"domain":[-100,300],"nice":false,"zero":false}}}},
   {"transform":[{"filter":"datum.k=='x'&&isValid(datum.q1)"}],"mark":{"type":"bar","width":18,"stroke":"#444","strokeWidth":0.8,"clip":true},"encoding":{"y":{"field":"q1","type":"quantitative","scale":{"domain":[-100,300],"nice":false,"zero":false},"axis":{"values":[-100,0,100,200,300],"title":"B2","titleAngle":0,"titleAlign":"right","titleBaseline":"middle","titleY":73,"titleFontSize":17,"titleFontWeight":"bold","titlePadding":3}},"y2":{"field":"q3"},"color":{"field":"g","type":"nominal","scale":{"domain":["M","F"],"range":["#3e7ccc","#e0646c"]},"legend":null}}},
   {"transform":[{"filter":"datum.k=='x'&&isValid(datum.md)"}],"mark":{"type":"point","shape":"stroke","size":324,"stroke":"#222","strokeWidth":1,"filled":false,"opacity":1,"clip":true},"encoding":{"y":{"field":"md","type":"quantitative","scale":{"domain":[-100,300],"nice":false,"zero":false}}}},
   {"transform":[{"filter":"datum.k=='x'&&isValid(datum.mn)"}],"mark":{"type":"point","shape":"stroke","size":324,"stroke":"#000","strokeWidth":1.8,"strokeDash":[2,2.5],"filled":false,"opacity":1,"clip":true},"encoding":{"y":{"field":"mn","type":"quantitative","scale":{"domain":[-100,300],"nice":false,"zero":false}}}},
   {"transform":[{"filter":"datum.k=='o'"}],"mark":{"type":"circle","size":20,"color":"#111","opacity":1,"clip":true},"encoding":{"y":{"field":"y","type":"quantitative","scale":{"domain":[-100,300],"nice":false,"zero":false}}}},
   {"transform":[{"filter":"datum.k=='s'"}],"mark":{"type":"point","shape":"M0,-1L0.235,-0.324L0.951,-0.309L0.38,0.124L0.588,0.809L0,0.4L-0.588,0.809L-0.38,0.124L-0.951,-0.309L-0.235,-0.324Z","size":160,"filled":true,"fill":"#fff","stroke":"#222","strokeWidth":0.9,"opacity":1,"clip":true},"encoding":{"y":{"field":"y","type":"quantitative","scale":{"domain":[-100,300],"nice":false,"zero":false}}}}
  ]}
 ]},
 {"width":258,"height":203,"data":{"name":"d"},"transform":[{"filter":"datum.s=='CSL'&&datum.b=='B1'"}],"layer":[
  {"transform":[{"filter":"datum.k=='z'"}],"mark":{"type":"rule","color":"#444","strokeDash":[3,1.5,1,1.5],"strokeWidth":1},"encoding":{"y":{"datum":0,"type":"quantitative","scale":{"domain":[-100,300],"nice":false,"zero":false}}}},
  {"encoding":{"x":{"field":"v","type":"nominal","scale":{"type":"band","domain":["/i/","/u/","/a/","/ae/"],"paddingInner":0,"paddingOuter":0.1},"axis":{"labelAngle":0,"labelFontSize":15,"labelFontStyle":"italic","labelDx":7,"labelPadding":10,"ticks":false,"title":"Adult Synthesized Bandwidths: CSL","titleFontSize":15,"titleFontWeight":"normal","titlePadding":12}},"xOffset":{"field":"g","type":"nominal","scale":{"type":"band","domain":["M","F"],"paddingInner":0,"paddingOuter":0.46}}},"layer":[
   {"transform":[{"filter":"datum.k=='x'&&isValid(datum.lo)"}],"mark":{"type":"rule","color":"#555","strokeWidth":1,"clip":true},"encoding":{"y":{"field":"lo","type":"quantitative","scale":{"domain":[-100,300],"nice":false,"zero":false}},"y2":{"field":"q1"}}},
   {"transform":[{"filter":"datum.k=='x'&&isValid(datum.hi)"}],"mark":{"type":"rule","color":"#555","strokeWidth":1,"clip":true},"encoding":{"y":{"field":"q3","type":"quantitative","scale":{"domain":[-100,300],"nice":false,"zero":false}},"y2":{"field":"hi"}}},
   {"transform":[{"filter":"datum.k=='x'"},{"fold":["lo","hi"],"as":["kk","w"]},{"filter":"isValid(datum.w)"}],"mark":{"type":"tick","color":"#333","size":10,"thickness":1,"clip":true},"encoding":{"y":{"field":"w","type":"quantitative","scale":{"domain":[-100,300],"nice":false,"zero":false}}}},
   {"transform":[{"filter":"datum.k=='x'&&isValid(datum.q1)"}],"mark":{"type":"bar","width":18,"stroke":"#444","strokeWidth":0.8,"clip":true},"encoding":{"y":{"field":"q1","type":"quantitative","scale":{"domain":[-100,300],"nice":false,"zero":false},"axis":{"values":[-100,0,100,200,300],"title":"B1","titleAngle":0,"titleAlign":"right","titleBaseline":"middle","titleY":75,"titleFontSize":17,"titleFontWeight":"bold","titlePadding":3}},"y2":{"field":"q3"},"color":{"field":"g","type":"nominal","scale":{"domain":["M","F"],"range":["#3e7ccc","#e0646c"]},"legend":{"orient":"none","legendX":10,"legendY":180,"title":null,"padding":0,"labelExpr":"datum.label=='M'?'Male - Left':'Female - Right'","symbolType":"M-2.4,-0.62H2.4V0.62H-2.4Z","symbolSize":100,"symbolStrokeColor":"#222","symbolStrokeWidth":0.8,"symbolOpacity":1,"labelFontSize":10.5,"labelColor":"#222","rowPadding":0,"labelOffset":9}}}},
   {"transform":[{"filter":"datum.k=='x'&&isValid(datum.md)"}],"mark":{"type":"point","shape":"stroke","size":324,"stroke":"#222","strokeWidth":1,"filled":false,"opacity":1,"clip":true},"encoding":{"y":{"field":"md","type":"quantitative","scale":{"domain":[-100,300],"nice":false,"zero":false}}}},
   {"transform":[{"filter":"datum.k=='x'&&isValid(datum.mn)"}],"mark":{"type":"point","shape":"stroke","size":324,"stroke":"#000","strokeWidth":1.8,"strokeDash":[2,2.5],"filled":false,"opacity":1,"clip":true},"encoding":{"y":{"field":"mn","type":"quantitative","scale":{"domain":[-100,300],"nice":false,"zero":false}}}},
   {"transform":[{"filter":"datum.k=='o'"}],"mark":{"type":"circle","size":20,"color":"#111","opacity":1,"clip":true},"encoding":{"y":{"field":"y","type":"quantitative","scale":{"domain":[-100,300],"nice":false,"zero":false}}}},
   {"transform":[{"filter":"datum.k=='s'"}],"mark":{"type":"point","shape":"M0,-1L0.235,-0.324L0.951,-0.309L0.38,0.124L0.588,0.809L0,0.4L-0.588,0.809L-0.38,0.124L-0.951,-0.309L-0.235,-0.324Z","size":160,"filled":true,"fill":"#fff","stroke":"#222","strokeWidth":0.9,"opacity":1,"clip":true},"encoding":{"y":{"field":"y","type":"quantitative","scale":{"domain":[-100,300],"nice":false,"zero":false}}}}
  ]}
 ]}
],"spacing":26,"bounds":"flush","resolve":{"legend":{"color":"independent"}}}
],
"config":{"font":"Liberation Sans","view":{"stroke":"#999","strokeWidth":1},"axis":{"grid":false,"labelColor":"#222","titleColor":"#222","domainColor":"#444","tickColor":"#444"},"axisY":{"ticks":true,"tickSize":4,"labelFontSize":14,"labelPadding":8}}
}
